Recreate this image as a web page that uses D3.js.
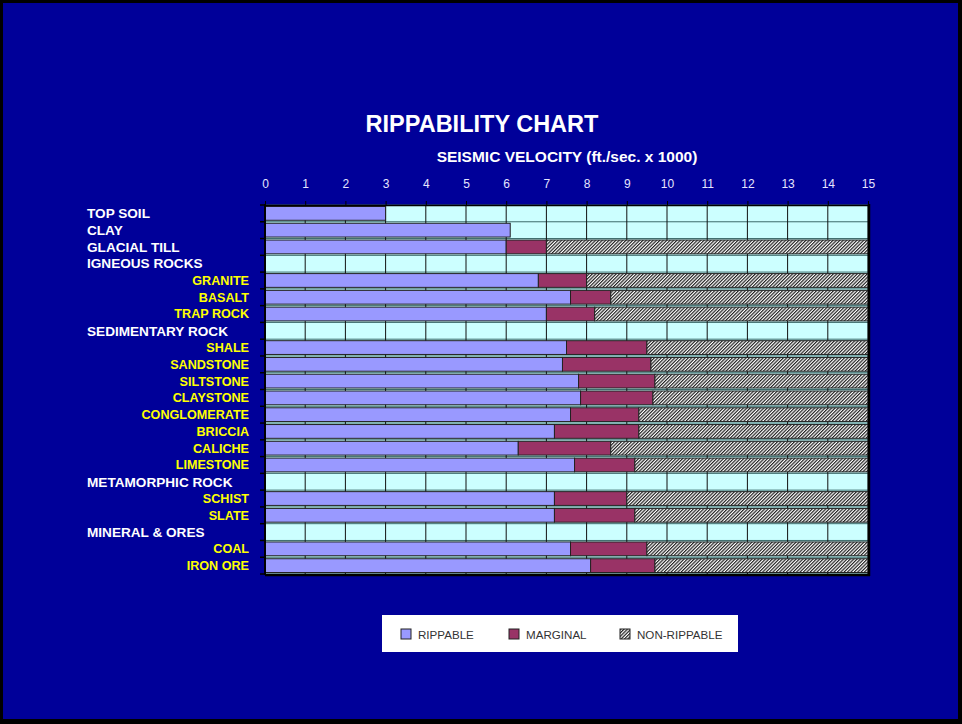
<!DOCTYPE html>
<html>
<head>
<meta charset="utf-8">
<script src="https://cdn.jsdelivr.net/npm/d3@7"></script>
<style>
  body { margin: 0; background: #000; }
  text { font-family: "Liberation Sans", Arial, sans-serif; }
</style>
</head>
<body>
<div id="wrapper"></div>
<script>
// rows top to bottom; group headers have no bar
const categories = [
  'TOP SOIL', 'CLAY', 'GLACIAL TILL', 'IGNEOUS ROCKS', 'GRANITE', 'BASALT', 'TRAP ROCK',
  'SEDIMENTARY ROCK', 'SHALE', 'SANDSTONE', 'SILTSTONE', 'CLAYSTONE', 'CONGLOMERATE',
  'BRICCIA', 'CALICHE', 'LIMESTONE', 'METAMORPHIC ROCK', 'SCHIST', 'SLATE',
  'MINERAL & ORES', 'COAL', 'IRON ORE'
];
const isSubItem = [
  false, false, false, false, true, true, true,
  false, true, true, true, true, true,
  true, true, true, false, true, true,
  false, true, true
];
// end of rippable range (ft/sec x 1000)
const rippableEnd = [3, 6.1, 6, null, 6.8, 7.6, 7, null, 7.5, 7.4, 7.8, 7.85, 7.6, 7.2, 6.3, 7.7, null, 7.2, 7.2, null, 7.6, 8.1];
// end of marginal range; non-rippable runs from here to the end of the scale
const marginalEnd = [null, null, 7, null, 8, 8.6, 8.2, null, 9.5, 9.6, 9.7, 9.65, 9.3, 9.3, 8.6, 9.2, null, 9, 9.2, null, 9.5, 9.7];
const velocityMax = 15;
const xTicks = d3.range(0, 16);
const legendItems = ['RIPPABLE', 'MARGINAL', 'NON-RIPPABLE'];

const colors = { rippable: '#9999ff', marginal: '#993366', plotBg: '#ccffff', page: '#000099' };

const width = 962, height = 724;
const plot = { left: 265, right: 868, top: 205, bottom: 574 };

const svg = d3.select('#wrapper').append('svg')
  .attr('width', width)
  .attr('height', height);

// page frame
svg.append('rect').attr('width', width).attr('height', height).attr('fill', '#000');
svg.append('rect').attr('x', 3).attr('y', 3).attr('width', width - 7).attr('height', height - 8)
  .attr('fill', colors.page);

const defs = svg.append('defs');
const hatch = defs.append('pattern')
  .attr('id', 'hatch')
  .attr('patternUnits', 'userSpaceOnUse')
  .attr('width', 2.4).attr('height', 2.4)
  .attr('patternTransform', 'rotate(45)');
hatch.append('rect').attr('width', 2.4).attr('height', 2.4).attr('fill', '#fff');
hatch.append('rect').attr('width', 1.2).attr('height', 2.4).attr('fill', '#222');

const xScale = d3.scaleLinear().domain([0, velocityMax]).range([plot.left, plot.right]);
const step = (plot.bottom - plot.top) / categories.length;
const rowTop = i => plot.top + i * step;

// titles
svg.append('text')
  .attr('x', 482).attr('y', 132)
  .attr('text-anchor', 'middle')
  .attr('fill', '#fff')
  .style('font-size', '23.5px').style('font-weight', 'bold')
  .text('RIPPABILITY CHART');

svg.append('text')
  .attr('x', 567).attr('y', 162)
  .attr('text-anchor', 'middle')
  .attr('fill', '#fff')
  .style('font-size', '15.5px').style('font-weight', 'bold')
  .text('SEISMIC VELOCITY (ft./sec. x 1000)');

// plot background
svg.append('rect')
  .attr('x', plot.left).attr('y', plot.top)
  .attr('width', plot.right - plot.left).attr('height', plot.bottom - plot.top)
  .attr('fill', colors.plotBg);

// grid
const rowBounds = d3.range(categories.length + 1).map(rowTop);
svg.append('g').selectAll('line')
  .data(rowBounds)
  .join('line')
  .attr('x1', plot.left).attr('x2', plot.right)
  .attr('y1', d => d).attr('y2', d => d)
  .attr('stroke', '#3d6b6b').attr('stroke-width', 1);

svg.append('g').selectAll('line')
  .data(xTicks)
  .join('line')
  .attr('x1', d => xScale(d)).attr('x2', d => xScale(d))
  .attr('y1', plot.top).attr('y2', plot.bottom)
  .attr('stroke', '#111').attr('stroke-width', 1);

// bars
const segments = [];
categories.forEach((c, i) => {
  if (rippableEnd[i] != null) segments.push({ i, x0: 0, x1: rippableEnd[i], fill: colors.rippable });
  if (marginalEnd[i] != null) {
    segments.push({ i, x0: rippableEnd[i], x1: marginalEnd[i], fill: colors.marginal });
    segments.push({ i, x0: marginalEnd[i], x1: velocityMax, fill: 'url(#hatch)' });
  }
});

svg.append('g').selectAll('rect')
  .data(segments)
  .join('rect')
  .attr('x', d => xScale(d.x0))
  .attr('y', d => rowTop(d.i) + 1.5)
  .attr('width', d => xScale(d.x1) - xScale(d.x0))
  .attr('height', step - 3)
  .attr('fill', d => d.fill)
  .attr('stroke', '#222').attr('stroke-width', 1);

// top axis
const xAxis = svg.append('g')
  .attr('transform', `translate(0,${plot.top})`)
  .call(d3.axisTop(xScale).tickValues(xTicks).tickSize(4).tickPadding(13).tickSizeOuter(0));
xAxis.select('.domain').attr('stroke', '#000').attr('stroke-width', 1.5);
xAxis.selectAll('.tick line').attr('stroke', '#000');
xAxis.selectAll('.tick text')
  .attr('fill', '#e6e6ff')
  .style('font-size', '12px')
  .style('font-family', '"Liberation Sans", Arial, sans-serif');

// left axis ticks at row boundaries
svg.append('g').selectAll('line')
  .data(rowBounds)
  .join('line')
  .attr('x1', plot.left - 5).attr('x2', plot.left)
  .attr('y1', d => d).attr('y2', d => d)
  .attr('stroke', '#000').attr('stroke-width', 1.5);
svg.append('line')
  .attr('x1', plot.left).attr('x2', plot.left)
  .attr('y1', plot.top - 1).attr('y2', plot.bottom + 1)
  .attr('stroke', '#000').attr('stroke-width', 2);

// right and bottom frame
svg.append('line')
  .attr('x1', plot.right + 1).attr('x2', plot.right + 1)
  .attr('y1', plot.top - 1).attr('y2', plot.bottom + 2)
  .attr('stroke', '#000').attr('stroke-width', 2.5);
svg.append('line')
  .attr('x1', plot.left).attr('x2', plot.right + 2)
  .attr('y1', plot.bottom + 1).attr('y2', plot.bottom + 1)
  .attr('stroke', '#000').attr('stroke-width', 2.5);

// row labels
svg.append('g').selectAll('text')
  .data(categories)
  .join('text')
  .attr('x', (d, i) => isSubItem[i] ? 249 : 87)
  .attr('y', (d, i) => rowTop(i) + step / 2)
  .attr('dy', '0.35em')
  .attr('text-anchor', (d, i) => isSubItem[i] ? 'end' : 'start')
  .attr('fill', (d, i) => isSubItem[i] ? '#ffff00' : '#fff')
  .style('font-size', (d, i) => isSubItem[i] ? '12.6px' : '13.6px')
  .style('font-weight', 'bold')
  .text(d => d);

// legend
const legend = svg.append('g');
legend.append('rect')
  .attr('x', 382).attr('y', 615).attr('width', 356).attr('height', 37)
  .attr('fill', '#fff');
const legendX = [401, 509, 620];
const legendFill = [colors.rippable, colors.marginal, 'url(#hatch)'];
const items = legend.selectAll('g')
  .data(legendItems)
  .join('g')
  .attr('transform', (d, i) => `translate(${legendX[i]},629)`);
items.append('rect')
  .attr('width', 10).attr('height', 10)
  .attr('fill', (d, i) => legendFill[i])
  .attr('stroke', '#222').attr('stroke-width', 1);
items.append('text')
  .attr('x', 17).attr('y', 10)
  .attr('fill', '#333')
  .style('font-size', '11.6px')
  .text(d => d);
</script>
</body>
</html>
